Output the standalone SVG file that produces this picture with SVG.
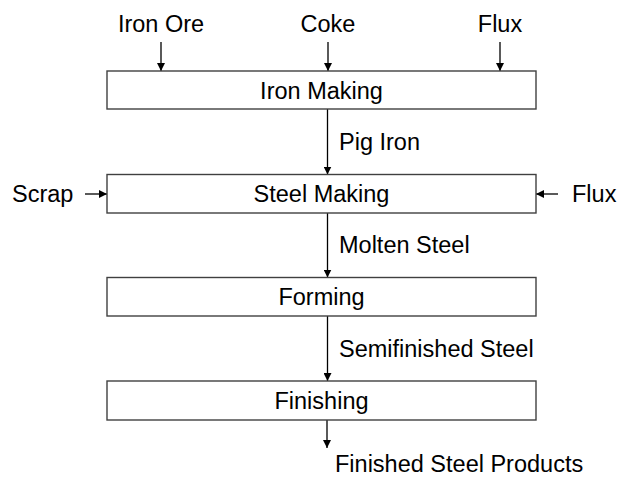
<svg xmlns="http://www.w3.org/2000/svg" width="618" height="479" viewBox="0 0 618 479">
<style>
text{font-family:"Liberation Sans",Arial,sans-serif;font-size:23.5px;fill:#000}
.c{text-anchor:middle}
.box{fill:#fff;stroke:#404040;stroke-width:1.4}
.ln{stroke:#000;stroke-width:1.3;fill:none;marker-end:url(#ah)}
</style>
<defs>
<marker id="ah" viewBox="0 0 10 10" refX="10" refY="5" markerWidth="8" markerHeight="8" markerUnits="userSpaceOnUse" orient="auto">
<path d="M0,0 L10,5 L0,10 Z" fill="#000"/>
</marker>
</defs>
<rect width="618" height="479" fill="#fff"/>
<g id="connectors">
<line class="ln" x1="161" y1="42" x2="161" y2="71"/>
<line class="ln" x1="328" y1="42" x2="328" y2="71"/>
<line class="ln" x1="500" y1="42" x2="500" y2="71"/>
<line class="ln" x1="327.5" y1="109" x2="327.5" y2="174.5"/>
<line class="ln" x1="85" y1="194" x2="107" y2="194"/>
<line class="ln" x1="558" y1="194" x2="536" y2="194"/>
<line class="ln" x1="327.5" y1="213" x2="327.5" y2="277.5"/>
<line class="ln" x1="327.5" y1="316" x2="327.5" y2="381"/>
<line class="ln" x1="327" y1="420" x2="327" y2="448"/>
</g>
<g id="labels">
<text class="c" x="161" y="32">Iron Ore</text>
<text class="c" x="328" y="32">Coke</text>
<text class="c" x="500" y="32">Flux</text>
<text x="339" y="150">Pig Iron</text>
<text x="12" y="202">Scrap</text>
<text x="572" y="202">Flux</text>
<text x="339" y="253">Molten Steel</text>
<text x="339" y="357">Semifinished Steel</text>
<text x="335" y="472">Finished Steel Products</text>
</g>
<g id="iron-making"><rect class="box" x="107" y="71" width="429" height="38"/><text class="c" x="321.5" y="98.5">Iron Making</text></g>
<g id="steel-making"><rect class="box" x="107" y="174.5" width="429" height="38.5"/><text class="c" x="321.5" y="202">Steel Making</text></g>
<g id="forming"><rect class="box" x="107" y="277.5" width="429" height="38.5"/><text class="c" x="321.5" y="305">Forming</text></g>
<g id="finishing"><rect class="box" x="107" y="381" width="429" height="39"/><text class="c" x="321.5" y="409">Finishing</text></g>
</svg>
